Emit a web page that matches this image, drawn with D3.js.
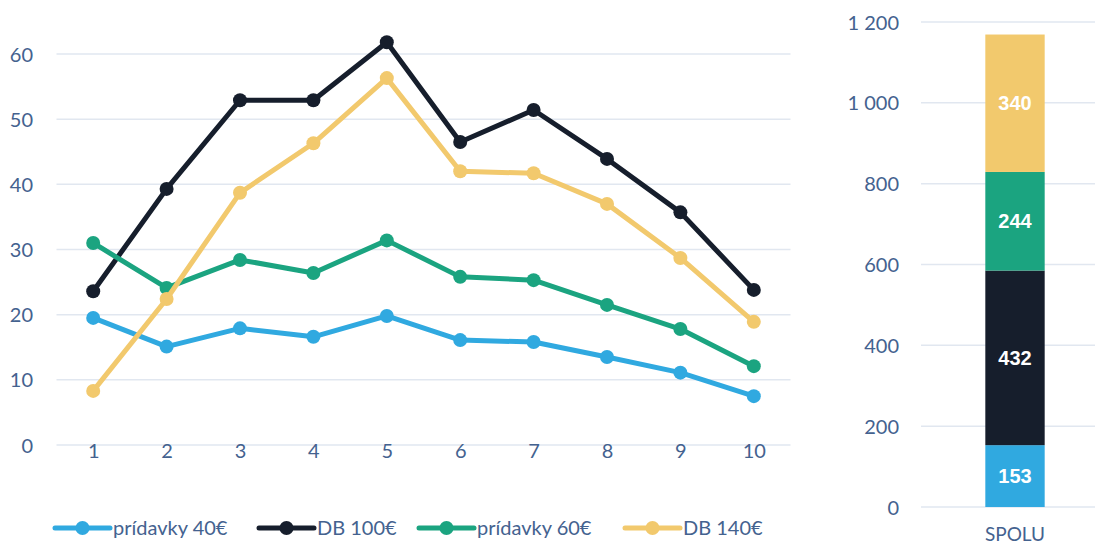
<!DOCTYPE html>
<html><head><meta charset="utf-8">
<script src="https://cdn.jsdelivr.net/npm/d3@7"></script>
<style>body{margin:0;background:#fff}svg{display:block}text{font-family:Lato,"Open Sans",sans-serif}</style>
</head><body>
<svg id="c" width="1095" height="545"></svg>
<script>
const categories = ["1","2","3","4","5","6","7","8","9","10"];
const seriesNames = ["prídavky 40€","DB 100€","prídavky 60€","DB 140€"];
const seriesColors = ["#30a9e0","#161e2c","#1ba480","#f2c96d"];
const pridavky40 = [19.5,15.1,17.9,16.6,19.8,16.1,15.8,13.5,11.1,7.5];
const db100 = [23.6,39.3,52.9,52.9,61.8,46.5,51.4,43.9,35.7,23.8];
const pridavky60 = [31.0,24.1,28.4,26.4,31.4,25.8,25.3,21.5,17.8,12.1];
const db140 = [8.3,22.4,38.7,46.3,56.3,42.0,41.7,37.0,28.7,18.9];
const totals = [153,432,244,340];
const totalCategory = ["SPOLU"];
const leftTicks = [0,10,20,30,40,50,60];
const rightTicks = [0,200,400,600,800,1000,1200];

const seriesValues = [pridavky40, db100, pridavky60, db140];
const svg = d3.select("#c");
const textColor = "#44628f", gridColor = "#e1e7f0";
const fs = "20px";

// ---- left line chart
const x = d3.scalePoint().domain(categories).range([56.5, 790.5]).padding(0.5);
const y = d3.scaleLinear().domain([0,60]).range([445,54]);
const gl = svg.append("g");
gl.append("g").selectAll("line").data(leftTicks).join("line")
  .attr("x1",56.5).attr("x2",790.5).attr("y1",d=>y(d)).attr("y2",d=>y(d))
  .attr("stroke",gridColor).attr("stroke-width",1.5);
const yAxis = gl.append("g").attr("transform","translate(33,0)")
  .call(d3.axisLeft(y).tickValues(leftTicks).tickSize(0).tickPadding(0));
yAxis.select(".domain").remove();
yAxis.selectAll("text").attr("fill",textColor).style("font-size",fs).attr("dy","0.35em");
const xAxis = gl.append("g").attr("transform","translate(0,451)")
  .call(d3.axisBottom(x).tickSize(0).tickPadding(0));
xAxis.select(".domain").remove();
xAxis.selectAll("text").attr("fill",textColor).style("font-size",fs).attr("dy","0.35em");

const line = d3.line().x((d,i)=>x(categories[i])).y(d=>y(d));
seriesValues.forEach((vals,si)=>{
  const g = gl.append("g");
  g.append("path").datum(vals).attr("d",line).attr("fill","none")
    .attr("stroke",seriesColors[si]).attr("stroke-width",5).attr("stroke-linejoin","round");
  g.selectAll("circle").data(vals).join("circle")
    .attr("cx",(d,i)=>x(categories[i])).attr("cy",d=>y(d)).attr("r",7)
    .attr("fill",seriesColors[si]);
});

// legend
const legendX = [55, 259, 419, 625];
const lg = svg.append("g").attr("transform","translate(0,528)");
seriesNames.forEach((name,i)=>{
  const g = lg.append("g").attr("transform",`translate(${legendX[i]},0)`);
  g.append("line").attr("x1",0).attr("x2",55).attr("stroke",seriesColors[i]).attr("stroke-width",5).attr("stroke-linecap","round");
  g.append("circle").attr("cx",27.5).attr("r",7).attr("fill",seriesColors[i]);
  g.append("text").attr("x",58).attr("dy","0.35em").attr("fill",textColor).style("font-size",fs).text(name);
});

// ---- right stacked bar
const y2 = d3.scaleLinear().domain([0,1200]).range([507,22]);
const xb = d3.scaleBand().domain(totalCategory).range([921,1109]).paddingInner(0.52).paddingOuter(0.52);
const gr = svg.append("g");
gr.append("g").selectAll("line").data(rightTicks).join("line")
  .attr("x1",921).attr("x2",1095).attr("y1",d=>y2(d)).attr("y2",d=>y2(d))
  .attr("stroke",gridColor).attr("stroke-width",1.5);
const fmt = d => d3.format(",")(d).replace(/,/g,"\u00a0");
const y2Axis = gr.append("g").attr("transform","translate(899,0)")
  .call(d3.axisLeft(y2).tickValues(rightTicks).tickFormat(fmt).tickSize(0).tickPadding(0));
y2Axis.select(".domain").remove();
y2Axis.selectAll("text").attr("fill",textColor).style("font-size",fs).attr("dy","0.35em");
const x2Axis = gr.append("g").attr("transform","translate(0,534)")
  .call(d3.axisBottom(xb).tickSize(0).tickPadding(0));
x2Axis.select(".domain").remove();
x2Axis.selectAll("text").attr("fill",textColor).style("font-size","19px").attr("dy","0.35em");

let acc = 0;
const segs = totals.map((v,i)=>{ const s={v, y0:acc, y1:acc+v, c:seriesColors[i]}; acc+=v; return s; });
gr.selectAll("rect.seg").data(segs).join("rect").attr("class","seg")
  .attr("x",xb("SPOLU")).attr("width",xb.bandwidth())
  .attr("y",d=>y2(d.y1)).attr("height",d=>y2(d.y0)-y2(d.y1)).attr("fill",d=>d.c);
gr.selectAll("text.lbl").data(segs).join("text").attr("class","lbl")
  .attr("x",xb("SPOLU")+xb.bandwidth()/2).attr("y",d=>y2((d.y0+d.y1)/2))
  .attr("dy","0.35em").attr("text-anchor","middle").attr("fill","#fff")
  .style("font-family",'"Liberation Sans Narrow","Arial Narrow","Liberation Sans",sans-serif')
  .style("font-weight","bold").style("font-size","20px").text(d=>d.v);
</script>
</body></html>
